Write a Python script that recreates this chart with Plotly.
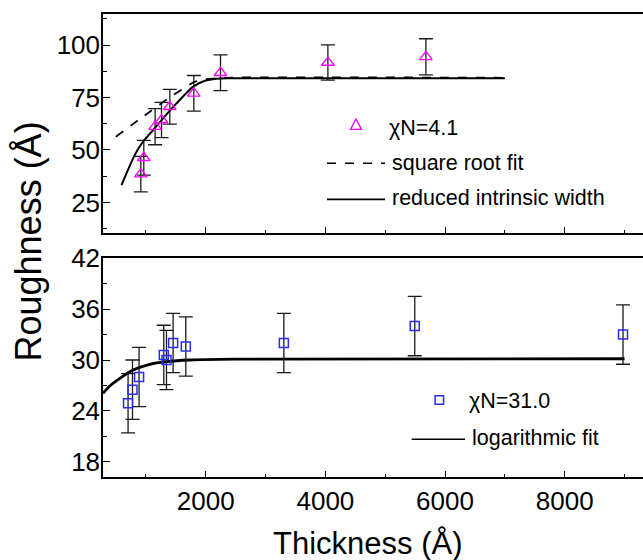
import plotly.graph_objects as go

W, H = 643, 560

# ---------------- data ----------------
# top panel: chi N = 4.1
thick_top = [915, 965, 1154, 1261, 1400, 1801, 2247, 4042, 5680]
rough_top = [38.5, 46.3, 61.1, 64.3, 70.6, 77.0, 86.8, 91.7, 94.4]
err_top = [8.5, 8.3, 8.6, 8.4, 8.3, 8.5, 8.5, 8.4, 8.6]

# reduced intrinsic width curve
riw_t = [592, 700, 786, 870, 953, 1120, 1288, 1511, 1790, 1985, 2180, 2400, 7000]
riw_v = [33.3, 40.5, 46.0, 50.5, 54.0, 59.5, 65.1, 72.2, 80.2, 83.0, 84.0, 84.2, 84.2]

# square root fit
sqr_t = [497, 953, 1400, 1818, 1985, 2300, 7000]
sqr_v = [56.3, 65.9, 75.1, 82.5, 83.7, 84.4, 84.4]

# bottom panel: chi N = 31.0
thick_bot = [702, 776, 886, 1299, 1344, 1455, 1667, 3306, 5494, 8975]
rough_bot = [24.9, 26.5, 28.0, 30.6, 30.0, 32.0, 31.6, 32.0, 34.0, 33.0]
err_bot = [3.5, 3.5, 3.5, 3.5, 3.5, 3.5, 3.5, 3.5, 3.5, 3.5]

# logarithmic fit
log_t = [283, 396, 565, 786, 1065, 1344, 1734, 2500, 9000]
log_v = [26.07, 26.93, 27.84, 28.82, 29.49, 29.80, 30.0, 30.1, 30.15]

x_ticks = [2000, 4000, 6000, 8000]
top_y_ticks = [25, 50, 75, 100]
bot_y_ticks = [18, 24, 30, 36, 42]

legend_top = ["χN=4.1", "square root fit", "reduced intrinsic width"]
legend_bot = ["χN=31.0", "logarithmic fit"]

# ---------------- styles ----------------
FONT = "Liberation Sans, Arial, Helvetica, sans-serif"
MAGENTA = "#ff00ff"
BLUE = "#2a2aff"
ERRC = "#1a1a1a"


def px(x):
    return x / W


def py(y):
    return 1 - y / H


fig = go.Figure()

# top panel
fig.add_trace(go.Scatter(x=sqr_t, y=sqr_v, mode="lines", xaxis="x", yaxis="y",
                         line=dict(color="black", width=1.8, dash="dash", shape="spline", smoothing=0.6)))
fig.add_trace(go.Scatter(x=riw_t, y=riw_v, mode="lines", xaxis="x", yaxis="y",
                         line=dict(color="black", width=2, shape="spline", smoothing=0.6)))
fig.add_trace(go.Scatter(x=thick_top, y=rough_top, mode="markers", xaxis="x", yaxis="y",
                         marker=dict(symbol="triangle-up-open", size=11, color=MAGENTA,
                                     line=dict(width=1.3, color=MAGENTA)),
                         error_y=dict(type="data", array=err_top, color=ERRC, thickness=1.3, width=7)))

# bottom panel
fig.add_trace(go.Scatter(x=log_t, y=log_v, mode="lines", xaxis="x2", yaxis="y2",
                         line=dict(color="black", width=2.8, shape="spline", smoothing=0.6)))
fig.add_trace(go.Scatter(x=thick_bot, y=rough_bot, mode="markers", xaxis="x2", yaxis="y2",
                         marker=dict(symbol="square-open", size=9, color=BLUE,
                                     line=dict(width=1.5, color=BLUE)),
                         error_y=dict(type="data", array=err_bot, color=ERRC, thickness=1.3, width=7)))

xrange = [283, 9309]
xdom = [103 / W, 1.0]
top_dom = [py(233.3), py(14)]
bot_dom = [py(477.3), py(258.3)]

axis_common = dict(showgrid=False, zeroline=False, showline=True, linecolor="black", linewidth=1.5,
                   ticks="inside", ticklen=7, tickwidth=1.3, tickcolor="black",
                   tickfont=dict(family=FONT, size=26, color="black"), automargin=False)

fig.update_layout(
    width=W, height=H,
    margin=dict(l=0, r=0, t=0, b=0),
    paper_bgcolor="white", plot_bgcolor="white",
    showlegend=False,
    xaxis=dict(domain=xdom, range=xrange, anchor="y", mirror=True, showticklabels=False,
               tickvals=x_ticks,
               minor=dict(ticks="inside", ticklen=4, dtick=1000, tick0=0, tickcolor="black", tickwidth=1.3),
               **axis_common),
    yaxis=dict(domain=top_dom, range=[10.3, 114.8], anchor="x", tickvals=top_y_ticks,
               ticklabelstandoff=-4,
               minor=dict(ticks="inside", ticklen=4, dtick=12.5, tick0=0, tickcolor="black", tickwidth=1.3),
               **axis_common),
    xaxis2=dict(domain=xdom, range=xrange, anchor="y2", mirror=True, tickvals=x_ticks,
                ticklabelstandoff=0,
                minor=dict(ticks="inside", ticklen=4, dtick=1000, tick0=0, tickcolor="black", tickwidth=1.3),
                **axis_common),
    yaxis2=dict(domain=bot_dom, range=[16.16, 42], anchor="x2", tickvals=bot_y_ticks,
                ticklabelstandoff=-4,
                minor=dict(ticks="inside", ticklen=4, dtick=3, tick0=0, tickcolor="black", tickwidth=1.3),
                **axis_common),
)

# axis titles
fig.add_annotation(text="Roughness (Å)", x=px(28), y=py(241.5), xref="paper", yref="paper",
                   textangle=-90, showarrow=False, xanchor="center", yanchor="middle",
                   font=dict(family=FONT, size=36, color="black"))
fig.add_annotation(text="Thickness (Å)", x=px(367), y=py(543), xref="paper", yref="paper",
                   showarrow=False, xanchor="center", yanchor="middle",
                   font=dict(family=FONT, size=31, color="black"))

# ---------------- hand-built legends ----------------
shapes = []
# top legend: triangle key
cx, cy, s = 356, 125, 5.5
shapes.append(dict(type="path", xref="paper", yref="paper",
                   path=f"M {px(cx - s)},{py(cy + s * 0.8)} L {px(cx + s)},{py(cy + s * 0.8)} L {px(cx)},{py(cy - s * 1.1)} Z",
                   line=dict(color=MAGENTA, width=1.3), fillcolor="rgba(0,0,0,0)"))
shapes.append(dict(type="line", xref="paper", yref="paper", x0=px(327), x1=px(385), y0=py(163.3), y1=py(163.3),
                   line=dict(color="black", width=1.6, dash="dash")))
shapes.append(dict(type="line", xref="paper", yref="paper", x0=px(327), x1=px(385), y0=py(199.3), y1=py(199.3),
                   line=dict(color="black", width=1.8)))
# bottom legend: square key
cx, cy, s = 439.3, 400, 4.2
shapes.append(dict(type="rect", xref="paper", yref="paper", x0=px(cx - s), x1=px(cx + s),
                   y0=py(cy + s), y1=py(cy - s), line=dict(color=BLUE, width=1.5)))
shapes.append(dict(type="line", xref="paper", yref="paper", x0=px(411.7), x1=px(465), y0=py(439.3), y1=py(439.3),
                   line=dict(color="black", width=1.6)))
fig.update_layout(shapes=shapes)

leg_pos_top = [(387, 128), (390, 163), (390, 198)]
for txt, (lx, ly) in zip(legend_top, leg_pos_top):
    fig.add_annotation(text=txt, x=px(lx), y=py(ly), xref="paper", yref="paper", showarrow=False,
                       xanchor="left", yanchor="middle", font=dict(family=FONT, size=21.5, color="black"))
leg_pos_bot = [(467, 401), (470, 438)]
for txt, (lx, ly) in zip(legend_bot, leg_pos_bot):
    fig.add_annotation(text=txt, x=px(lx), y=py(ly), xref="paper", yref="paper", showarrow=False,
                       xanchor="left", yanchor="middle", font=dict(family=FONT, size=21.5, color="black"))

fig.write_html("out.html", config={"displayModeBar": False},
               post_script="document.body.style.margin='0';document.body.style.overflow='hidden';")
